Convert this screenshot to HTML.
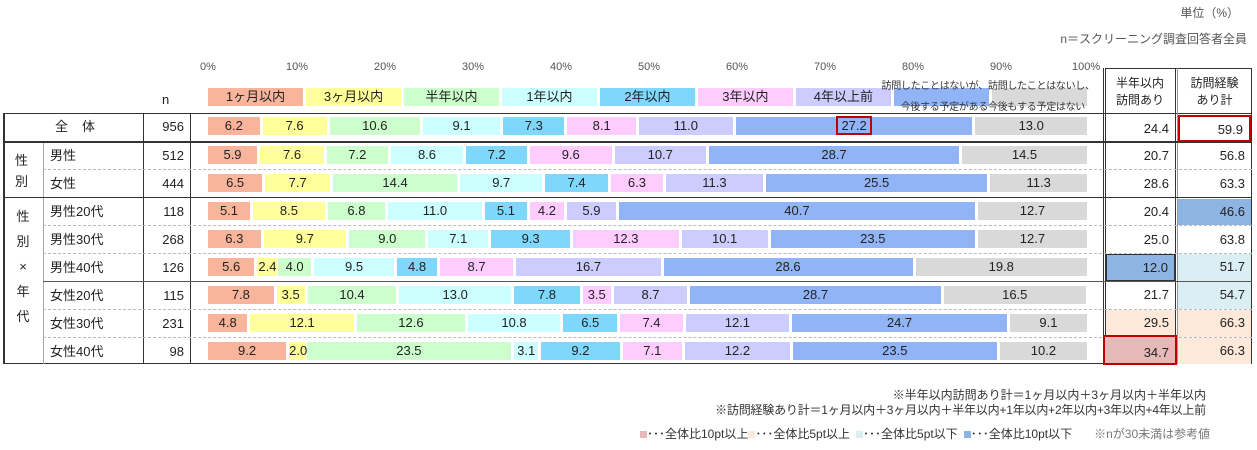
<!DOCTYPE html>
<html><head><meta charset="utf-8"><style>
body{margin:0;width:1257px;height:450px;background:#fff;font-family:"Liberation Sans","Noto Sans CJK JP",sans-serif;color:#222;position:relative;overflow:hidden}
.a{position:absolute}
.t{font-size:11px;color:#555}
.bar{position:absolute;left:208px;width:882px;height:18px;display:flex}
.bar div{height:18px;margin-right:3px;font-size:13px;line-height:18px;text-align:center;white-space:nowrap;overflow:visible}
.c1{background:#f9b59b}.c2{background:#ffff99}.c3{background:#ccffcc}.c4{background:#ccffff}.c5{background:#7fd7fb}.c6{background:#ffccff}.c7{background:#ccccff}.c8{background:#91b4f6}.c9{background:#d9d9d9}
.hl{position:absolute;height:0;border-top:1px solid #bbb}
.lab{position:absolute;font-size:13px;line-height:28px}
.num{position:absolute;font-size:13px;line-height:28px;text-align:right}
.cell{position:absolute;font-size:13px;text-align:right;line-height:26px;padding-right:6px;box-sizing:border-box}
</style></head><body>
<div class="a" style="right:18px;top:4px;font-size:12px;color:#555">単位（%）</div>
<div class="a" style="right:10px;top:30px;font-size:12px;color:#555">n＝スクリーニング調査回答者全員</div>

<div class="a t" style="left:200px;top:61px">0%</div>
<div class="a t" style="left:286px;top:61px">10%</div>
<div class="a t" style="left:374px;top:61px">20%</div>
<div class="a t" style="left:462px;top:61px">30%</div>
<div class="a t" style="left:550px;top:61px">40%</div>
<div class="a t" style="left:638px;top:61px">50%</div>
<div class="a t" style="left:726px;top:61px">60%</div>
<div class="a t" style="left:814px;top:61px">70%</div>
<div class="a t" style="left:902px;top:61px">80%</div>
<div class="a t" style="left:990px;top:61px">90%</div>
<div class="a t" style="left:1072px;top:61px">100%</div>

<div class="bar" style="top:88px">
<div class="c1" style="width:calc(11.11% - 3px)">1ヶ月以内</div><div class="c2" style="width:calc(11.11% - 3px)">3ヶ月以内</div><div class="c3" style="width:calc(11.11% - 3px)">半年以内</div><div class="c4" style="width:calc(11.11% - 3px)">1年以内</div><div class="c5" style="width:calc(11.11% - 3px)">2年以内</div><div class="c6" style="width:calc(11.11% - 3px)">3年以内</div><div class="c7" style="width:calc(11.11% - 3px)">4年以上前</div><div class="c8" style="width:calc(11.11% - 3px)"></div><div class="c9" style="width:calc(11.11% - 3px)"></div>
</div>
<div class="a" style="left:860px;top:76px;width:128px;font-size:10px;line-height:21px;text-align:right;color:#333;white-space:nowrap;letter-spacing:-0.3px">訪問したことはないが、<br>今後する予定がある</div>
<div class="a" style="left:988px;top:76px;width:100px;font-size:10px;line-height:21px;text-align:left;color:#333;white-space:nowrap;letter-spacing:-0.3px">訪問したことはないし、<br>今後もする予定はない</div>

<div class="a" style="left:162px;top:92px;font-size:13px">n</div>

<!-- table frame -->
<div class="a" style="left:3px;top:113px;width:1249px;height:251px;border:1px solid #333;border-left:2px solid #333;box-sizing:border-box"></div>
<div class="a" style="left:1105px;top:68px;width:147px;height:296px;border:1px solid #333;box-sizing:border-box"></div>
<div class="a" style="left:1103px;top:68px;height:296px;border-left:1px solid #333"></div>
<div class="a" style="left:1175px;top:68px;height:296px;border-left:1px solid #333"></div>
<div class="a" style="left:1177px;top:68px;height:296px;border-left:1px solid #999"></div>
<div class="a" style="left:143px;top:113px;height:251px;border-left:1.5px solid #333"></div>
<div class="a" style="left:190px;top:113px;height:251px;border-left:1.5px solid #333"></div>
<div class="a" style="left:43px;top:141px;height:223px;border-left:1px solid #aaa"></div>

<div class="a" style="left:1105px;top:75px;width:70px;text-align:center;font-size:12px;line-height:17px">半年以内<br>訪問あり</div>
<div class="a" style="left:1177px;top:75px;width:75px;text-align:center;font-size:12px;line-height:17px">訪問経験<br>あり計</div>

<div class="a" style="left:3px;top:141px;width:1249px;border-top:2px solid #333"></div>
<div class="hl" style="left:43px;top:169px;width:1209px;border-top:1px dashed #bbb"></div>
<div class="a" style="left:3px;top:197px;width:1249px;border-top:1.5px solid #333"></div>
<div class="hl" style="left:43px;top:225px;width:1209px;border-top:1px dashed #bbb"></div>
<div class="hl" style="left:43px;top:253px;width:1209px;border-top:1px dashed #bbb"></div>
<div class="a" style="left:43px;top:281px;width:1209px;border-top:1px solid #555"></div>
<div class="hl" style="left:43px;top:309px;width:1209px;border-top:1px dashed #bbb"></div>
<div class="hl" style="left:43px;top:337px;width:1209px;border-top:1px dashed #bbb"></div>

<div class="lab" style="left:55px;top:113px;letter-spacing:14px">全体</div>
<div class="a" style="left:15px;top:150px;font-size:13px;line-height:21px">性<br>別</div>
<div class="a" style="left:15px;top:204px;font-size:13px;line-height:25px;text-align:center;width:16px">性<br>別<br>×<br>年<br>代</div>
<div class="lab" style="left:50px;top:142px">男性</div>
<div class="lab" style="left:50px;top:170px">女性</div>
<div class="lab" style="left:50px;top:198px">男性20代</div>
<div class="lab" style="left:50px;top:226px">男性30代</div>
<div class="lab" style="left:50px;top:254px">男性40代</div>
<div class="lab" style="left:50px;top:282px">女性20代</div>
<div class="lab" style="left:50px;top:310px">女性30代</div>
<div class="lab" style="left:50px;top:338px">女性40代</div>

<div class="num" style="left:143px;width:41px;top:113px">956</div>
<div class="num" style="left:143px;width:41px;top:142px">512</div>
<div class="num" style="left:143px;width:41px;top:170px">444</div>
<div class="num" style="left:143px;width:41px;top:198px">118</div>
<div class="num" style="left:143px;width:41px;top:226px">268</div>
<div class="num" style="left:143px;width:41px;top:254px">126</div>
<div class="num" style="left:143px;width:41px;top:282px">115</div>
<div class="num" style="left:143px;width:41px;top:310px">231</div>
<div class="num" style="left:143px;width:41px;top:338px">98</div>

<div class="bar" style="top:117px"><div class="c1" style="width:calc(6.2% - 3px)">6.2</div><div class="c2" style="width:calc(7.6% - 3px)">7.6</div><div class="c3" style="width:calc(10.6% - 3px)">10.6</div><div class="c4" style="width:calc(9.1% - 3px)">9.1</div><div class="c5" style="width:calc(7.3% - 3px)">7.3</div><div class="c6" style="width:calc(8.1% - 3px)">8.1</div><div class="c7" style="width:calc(11.0% - 3px)">11.0</div><div class="c8" style="width:calc(27.2% - 3px)"><span style="border:2px solid #c00000;padding:0 3px">27.2</span></div><div class="c9" style="width:calc(13.0% - 3px)">13.0</div></div>
<div class="bar" style="top:146px"><div class="c1" style="width:calc(5.9% - 3px)">5.9</div><div class="c2" style="width:calc(7.6% - 3px)">7.6</div><div class="c3" style="width:calc(7.2% - 3px)">7.2</div><div class="c4" style="width:calc(8.6% - 3px)">8.6</div><div class="c5" style="width:calc(7.2% - 3px)">7.2</div><div class="c6" style="width:calc(9.6% - 3px)">9.6</div><div class="c7" style="width:calc(10.7% - 3px)">10.7</div><div class="c8" style="width:calc(28.7% - 3px)">28.7</div><div class="c9" style="width:calc(14.5% - 3px)">14.5</div></div>
<div class="bar" style="top:174px"><div class="c1" style="width:calc(6.5% - 3px)">6.5</div><div class="c2" style="width:calc(7.7% - 3px)">7.7</div><div class="c3" style="width:calc(14.4% - 3px)">14.4</div><div class="c4" style="width:calc(9.7% - 3px)">9.7</div><div class="c5" style="width:calc(7.4% - 3px)">7.4</div><div class="c6" style="width:calc(6.3% - 3px)">6.3</div><div class="c7" style="width:calc(11.3% - 3px)">11.3</div><div class="c8" style="width:calc(25.5% - 3px)">25.5</div><div class="c9" style="width:calc(11.3% - 3px)">11.3</div></div>
<div class="bar" style="top:202px"><div class="c1" style="width:calc(5.1% - 3px)">5.1</div><div class="c2" style="width:calc(8.5% - 3px)">8.5</div><div class="c3" style="width:calc(6.8% - 3px)">6.8</div><div class="c4" style="width:calc(11.0% - 3px)">11.0</div><div class="c5" style="width:calc(5.1% - 3px)">5.1</div><div class="c6" style="width:calc(4.2% - 3px)">4.2</div><div class="c7" style="width:calc(5.9% - 3px)">5.9</div><div class="c8" style="width:calc(40.7% - 3px)">40.7</div><div class="c9" style="width:calc(12.7% - 3px)">12.7</div></div>
<div class="bar" style="top:230px"><div class="c1" style="width:calc(6.3% - 3px)">6.3</div><div class="c2" style="width:calc(9.7% - 3px)">9.7</div><div class="c3" style="width:calc(9.0% - 3px)">9.0</div><div class="c4" style="width:calc(7.1% - 3px)">7.1</div><div class="c5" style="width:calc(9.3% - 3px)">9.3</div><div class="c6" style="width:calc(12.3% - 3px)">12.3</div><div class="c7" style="width:calc(10.1% - 3px)">10.1</div><div class="c8" style="width:calc(23.5% - 3px)">23.5</div><div class="c9" style="width:calc(12.7% - 3px)">12.7</div></div>
<div class="bar" style="top:258px"><div class="c1" style="width:calc(5.6% - 3px)">5.6</div><div class="c2" style="width:calc(2.4% - 1px);margin-right:1px">2.4</div><div class="c3" style="width:calc(4.0% - 3px)">4.0</div><div class="c4" style="width:calc(9.5% - 3px)">9.5</div><div class="c5" style="width:calc(4.8% - 3px)">4.8</div><div class="c6" style="width:calc(8.7% - 3px)">8.7</div><div class="c7" style="width:calc(16.7% - 3px)">16.7</div><div class="c8" style="width:calc(28.6% - 3px)">28.6</div><div class="c9" style="width:calc(19.8% - 3px)">19.8</div></div>
<div class="bar" style="top:286px"><div class="c1" style="width:calc(7.8% - 3px)">7.8</div><div class="c2" style="width:calc(3.5% - 3px)">3.5</div><div class="c3" style="width:calc(10.4% - 3px)">10.4</div><div class="c4" style="width:calc(13.0% - 3px)">13.0</div><div class="c5" style="width:calc(7.8% - 3px)">7.8</div><div class="c6" style="width:calc(3.5% - 3px)">3.5</div><div class="c7" style="width:calc(8.7% - 3px)">8.7</div><div class="c8" style="width:calc(28.7% - 3px)">28.7</div><div class="c9" style="width:calc(16.5% - 3px)">16.5</div></div>
<div class="bar" style="top:314px"><div class="c1" style="width:calc(4.8% - 3px)">4.8</div><div class="c2" style="width:calc(12.1% - 3px)">12.1</div><div class="c3" style="width:calc(12.6% - 3px)">12.6</div><div class="c4" style="width:calc(10.8% - 3px)">10.8</div><div class="c5" style="width:calc(6.5% - 3px)">6.5</div><div class="c6" style="width:calc(7.4% - 3px)">7.4</div><div class="c7" style="width:calc(12.1% - 3px)">12.1</div><div class="c8" style="width:calc(24.7% - 3px)">24.7</div><div class="c9" style="width:calc(9.1% - 3px)">9.1</div></div>
<div class="bar" style="top:342px"><div class="c1" style="width:calc(9.2% - 3px)">9.2</div><div class="c2" style="width:calc(2.0% - 1px);margin-right:1px">2.0</div><div class="c3" style="width:calc(23.5% - 3px)">23.5</div><div class="c4" style="width:calc(3.1% - 3px)">3.1</div><div class="c5" style="width:calc(9.2% - 3px)">9.2</div><div class="c6" style="width:calc(7.1% - 3px)">7.1</div><div class="c7" style="width:calc(12.2% - 3px)">12.2</div><div class="c8" style="width:calc(23.5% - 3px)">23.5</div><div class="c9" style="width:calc(10.2% - 3px)">10.2</div></div>

<div class="cell" style="left:1106px;width:69px;top:114px;height:27px;line-height:30px">24.4</div>
<div class="cell" style="left:1178px;width:73px;top:115px;height:27px;line-height:26px;border:2px solid #c00000">59.9</div>
<div class="cell" style="left:1106px;width:69px;top:143px;height:26px">20.7</div>
<div class="cell" style="left:1178px;width:73px;top:143px;height:26px">56.8</div>
<div class="cell" style="left:1106px;width:69px;top:171px;height:26px">28.6</div>
<div class="cell" style="left:1178px;width:73px;top:171px;height:26px">63.3</div>
<div class="cell" style="left:1106px;width:69px;top:199px;height:26px">20.4</div>
<div class="cell" style="left:1178px;width:73px;top:199px;height:26px;background:#8eb4e3">46.6</div>
<div class="cell" style="left:1106px;width:69px;top:227px;height:26px">25.0</div>
<div class="cell" style="left:1178px;width:73px;top:227px;height:26px">63.8</div>
<div class="cell" style="left:1106px;width:69px;top:254px;height:27px;background:#8eb4e3;border:1px solid #333">12.0</div>
<div class="cell" style="left:1178px;width:73px;top:254px;height:27px;background:#daeef3">51.7</div>
<div class="cell" style="left:1106px;width:69px;top:282px;height:27px">21.7</div>
<div class="cell" style="left:1178px;width:73px;top:282px;height:27px;background:#daeef3">54.7</div>
<div class="cell" style="left:1106px;width:69px;top:310px;height:27px;background:#fde9d9">29.5</div>
<div class="cell" style="left:1178px;width:73px;top:310px;height:27px;background:#fde9d9">66.3</div>
<div class="cell" style="left:1103px;width:74px;top:335px;height:30px;background:#e6b8b7;border:2px solid #c00000;line-height:32px">34.7</div>
<div class="cell" style="left:1178px;width:73px;top:338px;height:26px;background:#fde9d9">66.3</div>

<div class="a" style="right:51px;top:386px;font-size:12px;color:#333;white-space:nowrap">※半年以内訪問あり計＝1ヶ月以内＋3ヶ月以内＋半年以内</div>
<div class="a" style="right:51px;top:401px;font-size:12px;color:#333;white-space:nowrap;letter-spacing:-0.2px">※訪問経験あり計＝1ヶ月以内＋3ヶ月以内＋半年以内+1年以内+2年以内+3年以内+4年以上前</div>
<div class="a" style="left:640px;top:425px;font-size:12px;color:#333;white-space:nowrap">
<span style="display:inline-block;width:7px;height:7px;background:#e6b8b7"></span>･･･全体比10pt以上<span style="display:inline-block;width:7px;height:7px;background:#fde9d9"></span>･･･全体比5pt以上<span style="display:inline-block;width:7px;height:7px;background:#daeef3;margin-left:6px"></span>･･･全体比5pt以下<span style="display:inline-block;width:7px;height:7px;background:#8eb4e3;margin-left:6px"></span>･･･全体比10pt以下<span style="color:#777;margin-left:22px">※nが30未満は参考値</span></div>
</body></html>
